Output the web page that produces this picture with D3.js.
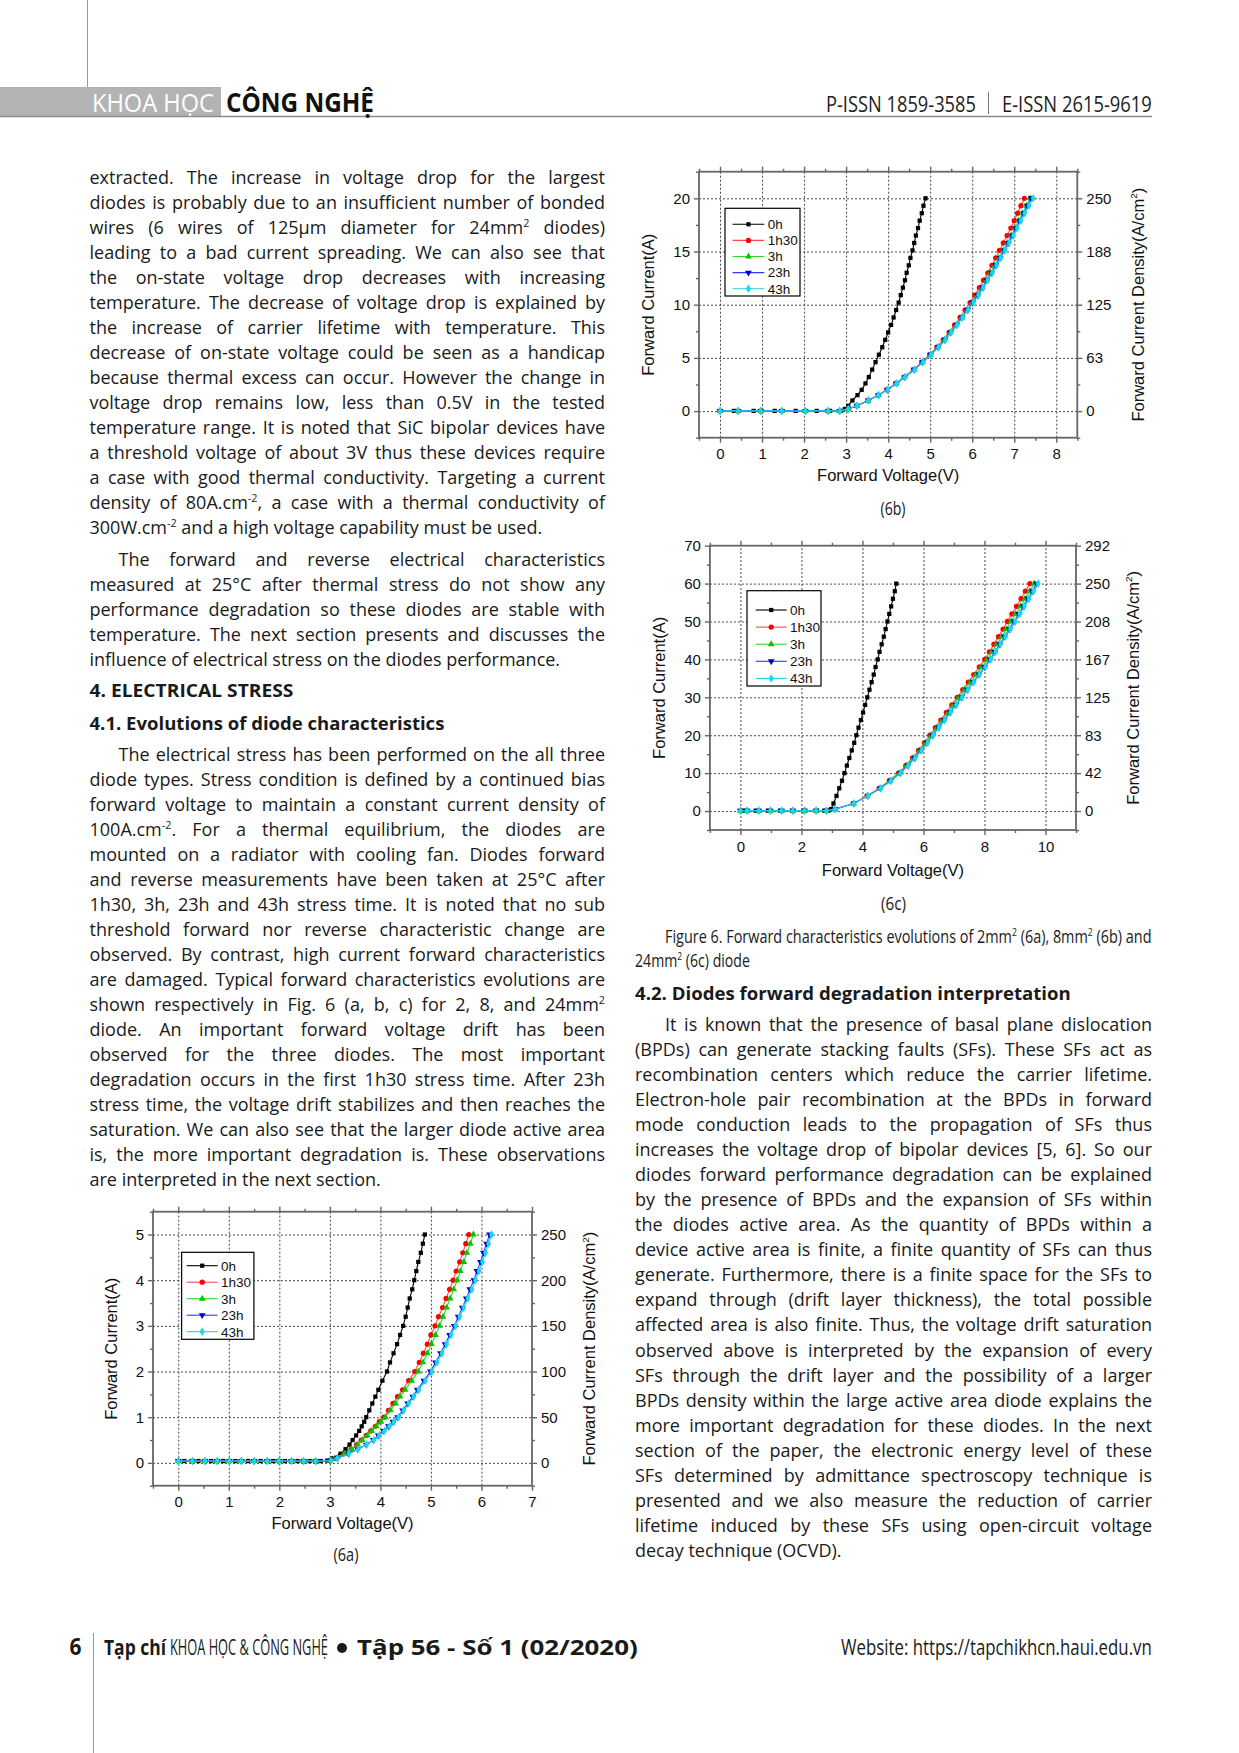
<!DOCTYPE html>
<html lang="en">
<head>
<meta charset="UTF-8">
<title>Figure 6 - Forward characteristics evolutions</title>
<style>
  body { margin: 0; background: #fff; }
  svg { display: block; }
</style>
</head>
<body>
<script src="https://d3js.org/d3.v7.min.js"></script>
<script>
// ---------- data ----------
var seriesNames = ['0h', '1h30', '3h', '23h', '43h'];

// Fig 6a, 2 mm2 diode (current in A, voltage in V)
var current_a = [0.04, 0.04, 0.04, 0.04, 0.04, 0.04, 0.04, 0.04, 0.04, 0.04, 0.04, 0.04,
  0.05, 0.1, 0.2, 0.3, 0.4, 0.5, 0.6, 0.7, 0.8, 0.9, 1.0, 1.15, 1.3, 1.45, 1.6, 1.8,
  2.0, 2.2, 2.4, 2.6, 2.8, 3.0, 3.2, 3.4, 3.6, 3.8, 4.0, 4.2, 4.4, 4.6, 4.8, 5.0];
var lowVolts_a = [0, 0.28, 0.53, 0.77, 1.01, 1.25, 1.5, 1.76, 1.99, 2.24, 2.48, 2.72];
var lowVoltsBlack_a = [0.12, 0.4, 0.65, 0.89, 1.13, 1.38, 1.63, 1.88, 2.11, 2.36, 2.6, 2.82];
var v0h_a = lowVoltsBlack_a.concat([2.95, 3.05, 3.21, 3.31, 3.39, 3.45, 3.52, 3.58, 3.63, 3.68, 3.72, 3.78, 3.84, 3.90, 3.96, 4.04, 4.13, 4.19, 4.26, 4.33, 4.39, 4.45, 4.50, 4.54, 4.58, 4.63, 4.67, 4.71, 4.75, 4.80, 4.84, 4.88]);
var v1h30_a = lowVolts_a.concat([3.00, 3.10, 3.28, 3.42, 3.53, 3.62, 3.72, 3.81, 3.90, 3.98, 4.07, 4.16, 4.25, 4.34, 4.44, 4.56, 4.68, 4.77, 4.85, 4.93, 5.00, 5.08, 5.15, 5.23, 5.30, 5.37, 5.44, 5.50, 5.57, 5.63, 5.69, 5.75]);
var v3h_a = lowVolts_a.concat([3.00, 3.10, 3.29, 3.43, 3.55, 3.64, 3.74, 3.83, 3.92, 4.01, 4.10, 4.20, 4.30, 4.39, 4.49, 4.62, 4.75, 4.84, 4.93, 5.01, 5.09, 5.17, 5.24, 5.31, 5.38, 5.45, 5.52, 5.58, 5.65, 5.71, 5.78, 5.84]);
var v23h_a = lowVolts_a.concat([3.02, 3.15, 3.37, 3.55, 3.72, 3.86, 3.96, 4.06, 4.16, 4.25, 4.34, 4.44, 4.54, 4.64, 4.73, 4.86, 4.99, 5.09, 5.19, 5.28, 5.37, 5.46, 5.54, 5.62, 5.70, 5.77, 5.85, 5.91, 5.98, 6.04, 6.10, 6.16]);
var v43h_a = lowVolts_a.concat([3.02, 3.15, 3.38, 3.56, 3.73, 3.87, 3.98, 4.08, 4.18, 4.27, 4.36, 4.46, 4.56, 4.66, 4.76, 4.89, 5.02, 5.12, 5.22, 5.31, 5.40, 5.49, 5.57, 5.65, 5.73, 5.81, 5.88, 5.95, 6.02, 6.08, 6.14, 6.20]);
var densityLabels_a = ['0', '50', '100', '150', '200', '250'];

// Fig 6b, 8 mm2 diode
var current_b = [0.02, 0.02, 0.02, 0.02, 0.02, 0.02, 0.02,
  0.2, 0.5, 1, 1.5, 2, 2.6, 3.2, 3.9, 4.6, 5.3, 6, 6.7, 7.4, 8.1, 8.8, 9.5, 10.2, 10.9,
  11.6, 12.3, 13, 13.7, 14.4, 15.1, 15.8, 16.5, 17.2, 17.9, 18.6, 19.3, 20];
var lowVolts_b = [0, 0.43, 0.97, 1.47, 2.03, 2.57, 2.85];
var lowVoltsBlack_b = [0.33, 0.8, 1.3, 1.8, 2.3, 2.62, 2.88];
var v0h_b = lowVoltsBlack_b.concat([2.97, 3.05, 3.15, 3.27, 3.37, 3.46, 3.54, 3.62, 3.70, 3.78, 3.86, 3.93, 4.00, 4.07, 4.13, 4.19, 4.25, 4.30, 4.35, 4.40, 4.44, 4.49, 4.53, 4.58, 4.62, 4.66, 4.71, 4.75, 4.80, 4.84, 4.89]);
var v1h30_b = lowVolts_b.concat([3.05, 3.25, 3.52, 3.76, 3.97, 4.18, 4.38, 4.60, 4.80, 4.99, 5.16, 5.31, 5.45, 5.58, 5.71, 5.83, 5.95, 6.06, 6.17, 6.27, 6.37, 6.47, 6.56, 6.65, 6.74, 6.83, 6.92, 7.00, 7.08, 7.16, 7.24]);
var v3h_b = lowVolts_b.concat([3.05, 3.26, 3.53, 3.77, 3.98, 4.19, 4.39, 4.62, 4.82, 5.01, 5.18, 5.34, 5.48, 5.62, 5.75, 5.88, 6.00, 6.12, 6.23, 6.34, 6.44, 6.54, 6.64, 6.74, 6.84, 6.93, 7.02, 7.11, 7.20, 7.29, 7.38]);
var v23h_b = lowVolts_b.concat([3.05, 3.26, 3.53, 3.77, 3.98, 4.20, 4.40, 4.62, 4.82, 5.01, 5.19, 5.35, 5.49, 5.63, 5.76, 5.89, 6.01, 6.13, 6.24, 6.35, 6.46, 6.56, 6.66, 6.76, 6.86, 6.95, 7.04, 7.13, 7.22, 7.31, 7.40]);
var v43h_b = lowVolts_b.concat([3.05, 3.26, 3.53, 3.77, 3.99, 4.20, 4.40, 4.63, 4.83, 5.02, 5.20, 5.36, 5.50, 5.64, 5.77, 5.90, 6.03, 6.15, 6.26, 6.37, 6.48, 6.58, 6.68, 6.78, 6.88, 6.98, 7.07, 7.16, 7.25, 7.35, 7.45]);
var densityLabels_b = ['0', '63', '125', '188', '250'];

// Fig 6c, 24 mm2 diode
var current_c = [0.1, 0.1, 0.1, 0.1, 0.1, 0.1, 0.1, 0.1, 0.1,
  0.5, 2, 4, 6, 8, 10, 12, 14, 16, 18, 20, 22, 24, 26, 28, 30, 32, 34, 36, 38, 40,
  42, 44, 46, 48, 50, 52, 54, 56, 58, 60];
var lowVolts_c = [0, 0.22, 0.6, 0.98, 1.35, 1.72, 2.1, 2.48, 2.82];
var lowVoltsBlack_c = [0.1, 0.5, 0.9, 1.3, 1.7, 2.1, 2.5, 2.75, 2.88];
var v0h_c = lowVoltsBlack_c.concat([2.97, 3.05, 3.15, 3.24, 3.33, 3.41, 3.49, 3.57, 3.65, 3.73, 3.80, 3.87, 3.95, 4.02, 4.09, 4.16, 4.23, 4.30, 4.37, 4.43, 4.50, 4.56, 4.63, 4.70, 4.76, 4.82, 4.88, 4.94, 5.00, 5.06, 5.11]);
var v1h30_c = lowVolts_c.concat([3.1, 3.70, 4.15, 4.55, 4.88, 5.18, 5.42, 5.64, 5.84, 6.03, 6.21, 6.39, 6.57, 6.75, 6.93, 7.11, 7.29, 7.47, 7.65, 7.83, 8.01, 8.16, 8.31, 8.46, 8.61, 8.75, 8.90, 9.05, 9.20, 9.34, 9.49]);
var v3h_c = lowVolts_c.concat([3.1, 3.71, 4.16, 4.57, 4.90, 5.20, 5.45, 5.67, 5.88, 6.07, 6.26, 6.44, 6.62, 6.81, 6.99, 7.17, 7.35, 7.54, 7.72, 7.91, 8.09, 8.25, 8.41, 8.57, 8.72, 8.87, 9.02, 9.18, 9.33, 9.48, 9.63]);
var v23h_c = lowVolts_c.concat([3.1, 3.72, 4.18, 4.59, 4.93, 5.24, 5.49, 5.71, 5.92, 6.12, 6.30, 6.49, 6.68, 6.87, 7.06, 7.25, 7.44, 7.63, 7.82, 8.00, 8.18, 8.34, 8.50, 8.66, 8.82, 8.97, 9.12, 9.27, 9.42, 9.57, 9.71]);
var v43h_c = lowVolts_c.concat([3.1, 3.72, 4.18, 4.60, 4.94, 5.25, 5.50, 5.73, 5.94, 6.14, 6.32, 6.51, 6.70, 6.89, 7.08, 7.27, 7.46, 7.65, 7.84, 8.03, 8.21, 8.37, 8.53, 8.69, 8.85, 9.01, 9.16, 9.31, 9.46, 9.61, 9.76]);
var densityLabels_c = ['0', '42', '83', '125', '167', '208', '250', '292'];

// ---------- page ----------
var BODY = "'Open Sans', 'Noto Sans', sans-serif";
var CHART = "'Liberation Sans', Arial, sans-serif";
var INK = '#1a1a1a';

var svg = d3.select('body').append('svg').attr('width', 1239).attr('height', 1753);

// text with ^{..} superscripts
function addRich(t, str, size) {
  var re = /\^\{([^}]*)\}/g, last = 0, m, parts = [];
  while ((m = re.exec(str))) {
    if (m.index > last) parts.push({ t: str.slice(last, m.index) });
    parts.push({ t: m[1], sup: true });
    last = re.lastIndex;
  }
  if (last < str.length) parts.push({ t: str.slice(last) });
  parts.forEach(function (p, i) {
    var ts = t.append('tspan').text(p.t);
    if (p.sup) ts.attr('font-size', size * 0.6).attr('dy', -size * 0.4);
    else if (i > 0 && parts[i - 1].sup) ts.attr('dy', size * 0.4);
  });
  return t;
}

// spread word gaps so the line fills the column; squeeze letters if too long
function justify(t, str, w) {
  var nat = t.node().getComputedTextLength();
  var plain = str.replace(/\^\{([^}]*)\}/g, '$1');
  var n = (plain.match(/ /g) || []).length;
  if (nat <= w && n > 0) t.attr('word-spacing', (w - nat) / n);
  else t.attr('letter-spacing', (w - nat) / plain.length);
}

function paragraph(lines, x, y0, step, width, indent, size) {
  lines.forEach(function (s, i) {
    var ind = i === 0 ? indent : 0;
    var t = svg.append('text').attr('x', x + ind).attr('y', y0 + i * step)
      .attr('font-family', BODY).attr('font-size', size).attr('fill', INK);
    addRich(t, s, size);
    if (i < lines.length - 1) justify(t, s, width - ind);
  });
}

// single label; with opt.width the text is scaled horizontally to that width (condensed look)
function label(str, x, y, opt) {
  var t = svg.append('text').attr('x', 0).attr('y', 0)
    .attr('font-family', opt.family || BODY).attr('font-size', opt.size)
    .attr('font-weight', opt.bold ? 700 : 400).attr('fill', opt.fill || INK)
    .attr('text-anchor', opt.anchor || 'start');
  addRich(t, str, opt.size);
  var sx = 1;
  if (opt.width) sx = opt.width / t.node().getComputedTextLength();
  t.attr('transform', 'translate(' + x + ',' + y + ') scale(' + sx + ',1)');
  return t;
}

// header
svg.append('line').attr('x1', 87.5).attr('x2', 87.5).attr('y1', 0).attr('y2', 87).attr('stroke', '#999');
svg.append('rect').attr('x', 0).attr('y', 87).attr('width', 221).attr('height', 29.5).attr('fill', '#b3b3b3');
svg.append('line').attr('x1', 0).attr('x2', 1152).attr('y1', 116.5).attr('y2', 116.5).attr('stroke', '#8a8a8a').attr('stroke-width', 1.6);
label('KHOA HỌC', 92, 111.5, { size: 26, fill: '#fff', width: 122 });
label('CÔNG NGHỆ', 226, 111.5, { size: 26, bold: true, fill: '#111', width: 148 });
label('P-ISSN 1859-3585', 826, 111.5, { size: 22, fill: '#222', width: 150 });
svg.append('line').attr('x1', 988.5).attr('x2', 988.5).attr('y1', 92).attr('y2', 114).attr('stroke', '#777');
label('E-ISSN 2615-9619', 1002, 111.5, { size: 22, fill: '#222', width: 150 });

// left column
var LX = 89.5, LW = 515.5, RX = 635, RW = 517, FS = 18, STEP = 25;
paragraph([
  'extracted. The increase in voltage drop for the largest',
  'diodes is probably due to an insufficient number of bonded',
  'wires (6 wires of 125µm diameter for 24mm^{2} diodes)',
  'leading to a bad current spreading. We can also see that',
  'the on-state voltage drop decreases with increasing',
  'temperature. The decrease of voltage drop is explained by',
  'the increase of carrier lifetime with temperature. This',
  'decrease of on-state voltage could be seen as a handicap',
  'because thermal excess can occur. However the change in',
  'voltage drop remains low, less than 0.5V in the tested',
  'temperature range. It is noted that SiC bipolar devices have',
  'a threshold voltage of about 3V thus these devices require',
  'a case with good thermal conductivity. Targeting a current',
  'density of 80A.cm^{-2}, a case with a thermal conductivity of',
  '300W.cm^{-2} and a high voltage capability must be used.'
], LX, 184.3, STEP, LW, 0, FS);

paragraph([
  'The forward and reverse electrical characteristics',
  'measured at 25°C after thermal stress do not show any',
  'performance degradation so these diodes are stable with',
  'temperature. The next section presents and discusses the',
  'influence of electrical stress on the diodes performance.'
], LX, 566, STEP, LW, 29, FS);

label('4. ELECTRICAL STRESS', LX, 697, { size: 18.5, bold: true, width: 204 });
label('4.1. Evolutions of diode characteristics', LX, 729.5, { size: 18.5, bold: true, width: 355 });

paragraph([
  'The electrical stress has been performed on the all three',
  'diode types. Stress condition is defined by a continued bias',
  'forward voltage to maintain a constant current density of',
  '100A.cm^{-2}. For a thermal equilibrium, the diodes are',
  'mounted on a radiator with cooling fan. Diodes forward',
  'and reverse measurements have been taken at 25°C after',
  '1h30, 3h, 23h and 43h stress time. It is noted that no sub',
  'threshold forward nor reverse characteristic change are',
  'observed. By contrast, high current forward characteristics',
  'are damaged. Typical forward characteristics evolutions are',
  'shown respectively in Fig. 6 (a, b, c) for 2, 8, and 24mm^{2}',
  'diode. An important forward voltage drift has been',
  'observed for the three diodes. The most important',
  'degradation occurs in the first 1h30 stress time. After 23h',
  'stress time, the voltage drift stabilizes and then reaches the',
  'saturation. We can also see that the larger diode active area',
  'is, the more important degradation is. These observations',
  'are interpreted in the next section.'
], LX, 761, STEP, LW, 29, FS);

// right column text
label('Figure 6. Forward characteristics evolutions of 2mm^{2} (6a), 8mm^{2} (6b) and', 665, 942.7, { size: 18, width: 487 });
label('24mm^{2} (6c) diode', RX, 966.7, { size: 18, width: 115 });
label('4.2. Diodes forward degradation interpretation', RX, 1000, { size: 18.5, bold: true, width: 436 });

paragraph([
  'It is known that the presence of basal plane dislocation',
  '(BPDs) can generate stacking faults (SFs). These SFs act as',
  'recombination centers which reduce the carrier lifetime.',
  'Electron-hole pair recombination at the BPDs in forward',
  'mode conduction leads to the propagation of SFs thus',
  'increases the voltage drop of bipolar devices [5, 6]. So our',
  'diodes forward performance degradation can be explained',
  'by the presence of BPDs and the expansion of SFs within',
  'the diodes active area. As the quantity of BPDs within a',
  'device active area is finite, a finite quantity of SFs can thus',
  'generate. Furthermore, there is a finite space for the SFs to',
  'expand through (drift layer thickness), the total possible',
  'affected area is also finite. Thus, the voltage drift saturation',
  'observed above is interpreted by the expansion of every',
  'SFs through the drift layer and the possibility of a larger',
  'BPDs density within the large active area diode explains the',
  'more important degradation for these diodes. In the next',
  'section of the paper, the electronic energy level of these',
  'SFs determined by admittance spectroscopy technique is',
  'presented and we also measure the reduction of carrier',
  'lifetime induced by these SFs using open-circuit voltage',
  'decay technique (OCVD).'
], RX, 1031, 25.04, RW, 30, FS);

// footer
svg.append('line').attr('x1', 93.5).attr('x2', 93.5).attr('y1', 1633).attr('y2', 1753).attr('stroke', '#999');
label('6', 69.5, 1655, { size: 23, bold: true, width: 12 });
label('Tạp chí', 104, 1655, { size: 22, bold: true, width: 62 });
label('KHOA HỌC & CÔNG NGHỆ', 170, 1655, { size: 22, width: 158 });
svg.append('circle').attr('cx', 342).attr('cy', 1648).attr('r', 5).attr('fill', INK);
label('Tập 56 - Số 1 (02/2020)', 357, 1655, { size: 22, bold: true, width: 281 });
label('Website: https://tapchikhcn.haui.edu.vn', 841, 1655, { size: 22, width: 311 });

// ---------- charts ----------
var styles = [
  { line: '#000000', fill: '#000000', symbol: d3.symbolSquare, size: 18, rot: 0 },
  { line: '#ff4a4a', fill: '#ff0000', symbol: d3.symbolCircle, size: 22, rot: 0 },
  { line: '#2ed62e', fill: '#00c800', symbol: d3.symbolTriangle, size: 20, rot: 0 },
  { line: '#2a3cff', fill: '#0000c8', symbol: d3.symbolTriangle, size: 20, rot: 180 },
  { line: '#2cc8f0', fill: '#18d8f0', symbol: d3.symbolDiamond, size: 22, rot: 0 }
];

function range(a, b, s) { return d3.range(a, b + s / 2, s); }

function drawChart(c) {
  var x = d3.scaleLinear().domain(c.xDomain).range([c.left, c.right]);
  var y = d3.scaleLinear().domain(c.yDomain).range([c.bottom, c.top]);
  var yd = d3.scaleLinear().domain(c.yDomain.map(function (v) { return v / c.area; })).range([c.bottom, c.top]);
  var W = c.right - c.left, H = c.bottom - c.top;
  var g = svg.append('g');

  // dotted grid
  var gx = g.append('g').attr('transform', 'translate(0,' + c.bottom + ')')
    .call(d3.axisBottom(x).tickValues(c.xGrid).tickSize(-H).tickFormat(''));
  var gy = g.append('g').attr('transform', 'translate(' + c.left + ',0)')
    .call(d3.axisLeft(y).tickValues(c.yGrid).tickSize(-W).tickFormat(''));
  [gx, gy].forEach(function (s) {
    s.select('.domain').remove();
    s.selectAll('line').attr('stroke', '#333').attr('stroke-width', 0.9).attr('stroke-dasharray', '2,2');
  });

  function axis(gen, tr, values, size, pad, fmt) {
    var a = g.append('g').attr('transform', tr)
      .call(gen.tickValues(values).tickSize(size).tickPadding(pad).tickFormat(fmt));
    a.select('.domain').remove();
    a.selectAll('line').attr('stroke', '#666').attr('stroke-width', 1.4);
    a.selectAll('text').attr('font-family', CHART).attr('font-size', 15).attr('fill', '#111');
    return a;
  }
  var xFmt = d3.format('d');
  axis(d3.axisBottom(x), 'translate(0,' + c.bottom + ')', c.xMajor, 5, 6, xFmt);
  axis(d3.axisBottom(x), 'translate(0,' + c.bottom + ')', c.xMinor, 3, 0, '');
  axis(d3.axisTop(x), 'translate(0,' + c.top + ')', c.xMajor, 5, 0, '');
  axis(d3.axisTop(x), 'translate(0,' + c.top + ')', c.xMinor, 3, 0, '');
  axis(d3.axisLeft(y), 'translate(' + c.left + ',0)', c.yMajor, 5, 4, d3.format('d'));
  axis(d3.axisLeft(y), 'translate(' + c.left + ',0)', c.yMinor, 3, 0, '');
  var dMajor = c.yMajor.map(function (v) { return v / c.area; });
  axis(d3.axisRight(yd), 'translate(' + c.right + ',0)', dMajor, 5, 4, function (d, i) { return c.rightLabels[i]; });
  axis(d3.axisRight(yd), 'translate(' + c.right + ',0)', c.yMinor.map(function (v) { return v / c.area; }), 3, 0, '');

  g.append('rect').attr('x', c.left).attr('y', c.top).attr('width', W).attr('height', H)
    .attr('fill', 'none').attr('stroke', '#666').attr('stroke-width', 1.8);

  // series
  var line = d3.line().x(function (d) { return x(d[0]); }).y(function (d) { return y(d[1]); });
  c.volts.forEach(function (vs, k) {
    var st = styles[k];
    var pts = vs.map(function (v, i) { return [v, c.current[i]]; });
    g.append('path').datum(pts).attr('d', line).attr('fill', 'none')
      .attr('stroke', st.line).attr('stroke-width', 1.1);
    g.append('g').selectAll('path').data(pts).join('path')
      .attr('d', d3.symbol().type(st.symbol).size(st.size))
      .attr('transform', function (d) { return 'translate(' + x(d[0]) + ',' + y(d[1]) + ') rotate(' + st.rot + ')'; })
      .attr('fill', st.fill);
  });

  // legend
  var L = c.legend;
  g.append('rect').attr('x', L.x).attr('y', L.y).attr('width', L.w).attr('height', L.h)
    .attr('fill', '#fff').attr('stroke', '#000').attr('stroke-width', 1.2);
  seriesNames.forEach(function (name, k) {
    var st = styles[k], yy = L.first + k * L.step;
    g.append('line').attr('x1', L.x1).attr('x2', L.x2).attr('y1', yy).attr('y2', yy)
      .attr('stroke', st.line).attr('stroke-width', 1.1);
    g.append('path').attr('d', d3.symbol().type(st.symbol).size(st.size))
      .attr('transform', 'translate(' + (L.x1 + L.x2) / 2 + ',' + yy + ') rotate(' + st.rot + ')')
      .attr('fill', st.fill);
    g.append('text').attr('x', L.tx).attr('y', yy + 4.8).text(name)
      .attr('font-family', CHART).attr('font-size', 13.5).attr('fill', '#111');
  });

  // axis titles
  var midY = (c.top + c.bottom) / 2, midX = (c.left + c.right) / 2;
  g.append('text').attr('x', midX).attr('y', c.xTitleY).attr('text-anchor', 'middle')
    .attr('font-family', CHART).attr('font-size', 16.5).attr('fill', '#111').text('Forward Voltage(V)');
  g.append('text').attr('transform', 'translate(' + c.yTitleX + ',' + midY + ') rotate(-90)')
    .attr('text-anchor', 'middle').attr('dy', '0.35em')
    .attr('font-family', CHART).attr('font-size', 16.5).attr('fill', '#111').text('Forward Current(A)');
  var rt = g.append('text').attr('transform', 'translate(' + c.rTitleX + ',' + midY + ') rotate(-90)')
    .attr('text-anchor', 'middle').attr('dy', '0.35em')
    .attr('font-family', CHART).attr('font-size', 16.5).attr('fill', '#111');
  addRich(rt, 'Forward Current Density(A/cm^{2})', 16.5);

  label(c.caption, c.capX, c.capY, { size: 18, anchor: 'middle', width: 25 });
}

drawChart({
  left: 153, right: 532, top: 1211.7, bottom: 1485.7,
  xDomain: [-0.5, 7], yDomain: [-0.5, 5.5], area: 0.02,
  xMajor: range(0, 7, 1), xMinor: range(-0.5, 6.5, 1), xGrid: range(0, 6, 1),
  yMajor: range(0, 5, 1), yMinor: range(-0.5, 5.5, 1), yGrid: range(0, 5, 1),
  rightLabels: densityLabels_a,
  current: current_a, volts: [v0h_a, v1h30_a, v3h_a, v23h_a, v43h_a],
  legend: { x: 181.6, y: 1252.3, w: 72.3, h: 87, first: 1265.7, step: 16.5, x1: 186.7, x2: 217.7, tx: 221 },
  xTitleY: 1529, yTitleX: 111, rTitleX: 589.6,
  caption: '(6a)', capX: 346, capY: 1561
});

drawChart({
  left: 699, right: 1077.3, top: 171.7, bottom: 437.7,
  xDomain: [-0.5, 8.5], yDomain: [-2.5, 22.5], area: 0.08,
  xMajor: range(0, 8, 1), xMinor: range(-0.5, 8.5, 1), xGrid: range(0, 8, 1),
  yMajor: range(0, 20, 5), yMinor: range(-2.5, 22.5, 5), yGrid: range(0, 20, 5),
  rightLabels: densityLabels_b,
  current: current_b, volts: [v0h_b, v1h30_b, v3h_b, v23h_b, v43h_b],
  legend: { x: 725, y: 208.3, w: 75, h: 87.7, first: 224.3, step: 16.1, x1: 732.6, x2: 764.3, tx: 767.7 },
  xTitleY: 481, yTitleX: 648.3, rTitleX: 1138,
  caption: '(6b)', capX: 893, capY: 515
});

drawChart({
  left: 709.9, right: 1076, top: 545.7, bottom: 830,
  xDomain: [-1, 11], yDomain: [-5, 70], area: 0.24,
  xMajor: range(0, 10, 2), xMinor: range(-1, 11, 2), xGrid: range(0, 10, 2),
  yMajor: range(0, 70, 10), yMinor: range(-5, 65, 10), yGrid: range(0, 60, 10),
  rightLabels: densityLabels_c,
  current: current_c, volts: [v0h_c, v1h30_c, v3h_c, v23h_c, v43h_c],
  legend: { x: 747, y: 590.7, w: 74, h: 95.3, first: 610, step: 17.1, x1: 755.7, x2: 786.7, tx: 790 },
  xTitleY: 876, yTitleX: 659, rTitleX: 1133,
  caption: '(6c)', capX: 893.5, capY: 910
});
</script>
</body>
</html>
